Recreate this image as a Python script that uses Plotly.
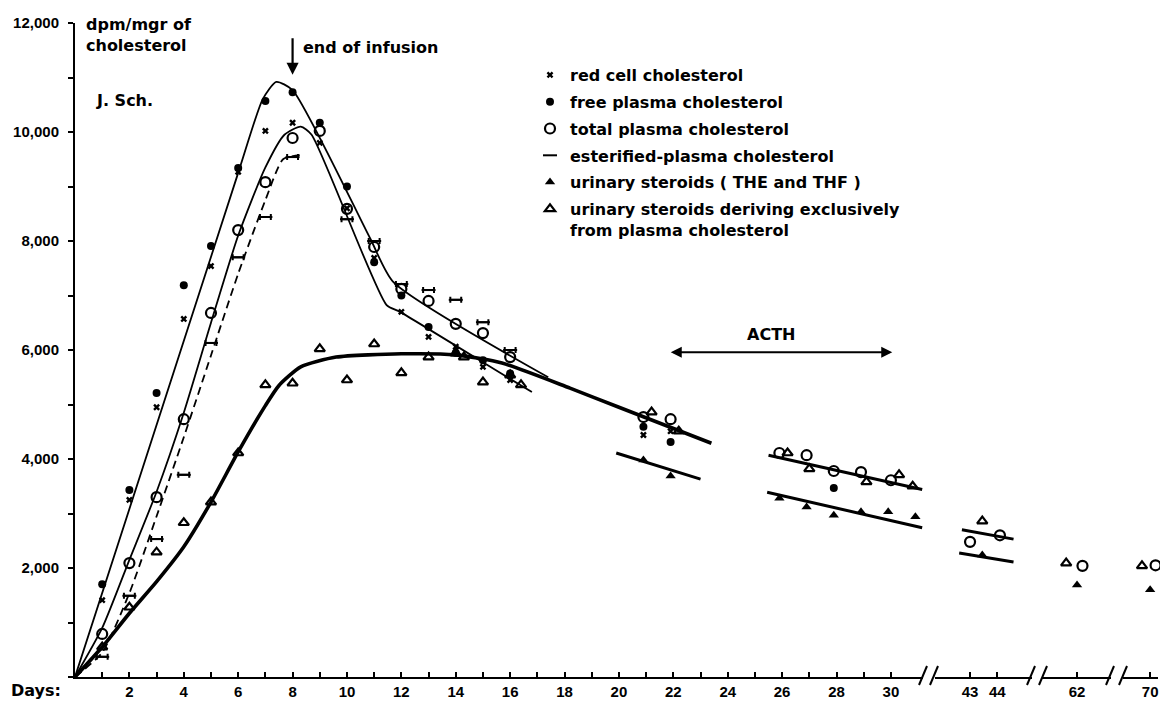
import plotly.graph_objects as go

# ---------------- data (days, dpm/mgr) ----------------
red_days = [1, 2, 3, 4, 5, 6, 7, 8, 9, 10, 11, 12, 13, 14, 15, 16, 20.9, 21.9]
red_vals = [1410, 3250, 4950, 6570, 7540, 9270, 10020, 10170, 9800, 8600, 7690, 6700, 6240, 6060, 5690, 5450, 4440, 4510]

free_days = [1, 2, 3, 4, 5, 6, 7, 8, 9, 10, 11, 12, 13, 14, 15, 16, 20.9, 21.9, 27.9]
free_vals = [1700, 3430, 5210, 7190, 7910, 9340, 10570, 10730, 10170, 9000, 7610, 7000, 6420, 5950, 5810, 5570, 4590, 4310, 3470]

total_days = [1, 2, 3, 4, 5, 6, 7, 8, 9, 10, 11, 12, 13, 14, 15, 16,
              20.9, 21.9, 25.9, 26.9, 27.9, 28.9, 30.0, 43.0, 44.1, 62.2, 70.2]
total_vals = [790, 2090, 3300, 4730, 6680, 8200, 9080, 9890, 10020, 8590, 7890, 7120, 6900, 6480, 6310, 5870,
              4770, 4730, 4110, 4070, 3780, 3760, 3610, 2480, 2600, 2040, 2050]

ester_days = [1, 2, 3, 4, 5, 6, 7, 8, 10, 11, 12, 13, 14, 15, 16]
ester_vals = [370, 1490, 2530, 3710, 6130, 7700, 8440, 9540, 8400, 8000, 7210, 7100, 6920, 6510, 6000]

uri_days = [20.9, 21.9, 25.9, 26.9, 27.9, 28.9, 29.9, 30.9, 43.45, 62.0, 70.0]
uri_vals = [3980, 3690, 3280, 3120, 2970, 3030, 3030, 2940, 2240, 1690, 1600]

uri_pl_days = [1, 2, 3, 4, 5, 6, 7, 8, 9, 10, 11, 12, 13, 14, 14.3, 15, 16, 16.4,
               21.2, 22.2, 26.2, 27.0, 29.1, 30.3, 30.8, 43.45, 61.6, 69.7]
uri_pl_vals = [550, 1280, 2290, 2830, 3210, 4110, 5360, 5390, 6020, 5450, 6110, 5580, 5870, 5940, 5870, 5410, 5540, 5360,
               4860, 4510, 4110, 3820, 3580, 3710, 3500, 2860, 2090, 2040]

# fitted curves drawn by the authors
curveA_days = [0, 6.0, 6.9, 7.4, 8.0, 10.85, 11.7, 17.4]
curveA_vals = [0, 9250, 10600, 10920, 10770, 8050, 7250, 5500]
curveB_days = [0, 1, 2, 3, 4, 5, 6, 7, 7.7, 8.3, 8.7, 11.45, 11.95, 15.9, 16.8]
curveB_vals = [0, 900, 2150, 3400, 4850, 6500, 8100, 9350, 9950, 10100, 9950, 6830, 6700, 5500, 5230]
curveC_days = [0, 1, 2, 3, 4, 5, 6, 7, 7.65, 8.3]
curveC_vals = [0, 450, 1540, 2950, 4400, 5900, 7400, 8750, 9500, 9580]
curveD_days = [0, 1, 2, 3, 4, 5, 6, 7, 7.5, 8.3, 9.6, 12, 14, 15.7, 18.2, 20, 23.4]
curveD_vals = [0, 550, 1170, 1750, 2390, 3210, 4130, 4980, 5350, 5690, 5870, 5930, 5910, 5760, 5300, 4950, 4290]
short_lines = [
    ([19.9, 23.0], [4110, 3630]),
    ([25.5, 31.15], [4070, 3440]),
    ([25.45, 31.15], [3390, 2740]),
    ([42.7, 44.6], [2700, 2530]),
    ([42.6, 44.6], [2275, 2110]),
]

y_ticks = list(range(0, 12001, 1000))
y_labels = ["" if (v == 0 or v % 2000) else f"{v:,}" for v in y_ticks]
x_ticks_main = list(range(1, 31))
x_labels_main = [str(d) if d % 2 == 0 else "" for d in x_ticks_main]

# ---------------- layout helpers ----------------
OFF = 8                      # page body margin of the html page
W, H = 1168 - OFF, 702 - OFF
ML, MR, MT, MB = 75 - OFF, 0, 23 - OFF, 25
PW, PH = W - ML - MR, H - MT - MB

def fx(px):                  # px given in screen (reference) pixels
    return (px - OFF - ML) / PW

def fy(py):
    return (H - MB - (py - OFF)) / PH

SEG_PX = [(75, 923), (935, 1032), (1042, 1111), (1123, 1158)]
SEG_RANGE = [(0, 31.18), (41.71, 45.28), (60.71, 63.25), (69.0, 70.29)]
AXN = ["x", "x2", "x3", "x4"]

def seg_index(d):
    if d < 36:
        return 0
    if d < 52:
        return 1
    if d < 66:
        return 2
    return 3

fig = go.Figure()
TICKFONT = "Liberation Sans"
TEXTFONT = "DejaVu Sans"

def add_line(days, vals, width, dash="solid", shape="spline"):
    s = seg_index(days[0])
    fig.add_trace(go.Scatter(x=days, y=vals, mode="lines", xaxis=AXN[s], yaxis="y",
                             line=dict(color="black", width=width, dash=dash, shape=shape, smoothing=0.6),
                             showlegend=False, hoverinfo="skip"))

add_line(curveA_days, curveA_vals, 1.8)
add_line(curveB_days, curveB_vals, 1.8)
add_line(curveC_days, curveC_vals, 1.8, dash="8px,5px")
add_line(curveD_days, curveD_vals, 3.6)
for d, v in short_lines:
    add_line(d, v, 3.0, shape="linear")

def add_markers(name, days, vals, marker, rank, error_x=None):
    groups = {}
    for d, v in zip(days, vals):
        groups.setdefault(seg_index(d), ([], []))
        groups[seg_index(d)][0].append(d)
        groups[seg_index(d)][1].append(v)
    first = True
    for s in sorted(groups):
        kw = {}
        if error_x is not None and s == 0:
            kw["error_x"] = error_x
        fig.add_trace(go.Scatter(x=groups[s][0], y=groups[s][1], mode="markers", name=name,
                                 xaxis=AXN[s], yaxis="y", marker=marker, legendgroup=name,
                                 legendrank=rank, showlegend=first, cliponaxis=False, **kw))
        first = False

add_markers("red cell cholesterol", red_days, red_vals,
            dict(symbol="x", size=6, color="black", line=dict(width=0)), 1)
add_markers("free plasma cholesterol", free_days, free_vals,
            dict(symbol="circle", size=8, color="black"), 2)
add_markers("total plasma cholesterol", total_days, total_vals,
            dict(symbol="circle-open", size=10, color="black", line=dict(width=2.2, color="black")), 3)
add_markers("esterified-plasma cholesterol", ester_days, ester_vals,
            dict(symbol="line-ew", size=10, color="black", line=dict(width=2, color="black")), 4,
            error_x=dict(type="constant", value=0.2, width=3, thickness=2, color="black"))
add_markers("urinary steroids ( THE and THF )", uri_days, uri_vals,
            dict(symbol="triangle-up", size=9, color="black"), 5)
add_markers("urinary steroids deriving exclusively<br>from plasma cholesterol", uri_pl_days, uri_pl_vals,
            dict(symbol="triangle-up-open", size=9, color="black", line=dict(width=2.2, color="black")), 6)

tickf = dict(family=TICKFONT, size=15, color="black", weight="bold")
axis_common = dict(showgrid=False, zeroline=False, showline=True, linecolor="black", linewidth=2,
                   ticks="inside", ticklen=5, tickwidth=2, tickcolor="black", automargin=False,
                   tickfont=tickf, anchor="y")
layout_axes = {}
tickcfg = [(x_ticks_main, x_labels_main), ([43, 44], ["43", "44"]), ([62], ["62"]), ([70], ["70"])]
for i, name in enumerate(["xaxis", "xaxis2", "xaxis3", "xaxis4"]):
    a, b = SEG_PX[i]
    layout_axes[name] = dict(axis_common, domain=[fx(a), fx(b)], range=list(SEG_RANGE[i]),
                             tickmode="array", tickvals=tickcfg[i][0], ticktext=tickcfg[i][1])

breaks = [((919, 685), (927, 666)), ((930, 685), (938, 666)),
          ((1027, 685), (1035, 666)), ((1039, 685), (1047, 666)),
          ((1106, 685), (1114, 666)), ((1119, 685), (1127, 666))]
shapes = [dict(type="line", xref="paper", yref="paper", x0=fx(p0[0]), y0=fy(p0[1]), x1=fx(p1[0]), y1=fy(p1[1]),
               line=dict(color="black", width=2)) for p0, p1 in breaks]

tf = dict(family=TEXTFONT, size=16, color="black", weight="bold")
annotations = [
    dict(xref="paper", yref="paper", x=fx(84), y=fy(13), xanchor="left", yanchor="top", align="left",
         text="dpm/mgr of<br>cholesterol", showarrow=False, font=tf),
    dict(xref="paper", yref="paper", x=fx(94), y=fy(101), xanchor="left", yanchor="middle",
         text="J. Sch.", showarrow=False, font=tf),
    dict(xref="paper", yref="paper", x=fx(301), y=fy(48), xanchor="left", yanchor="middle",
         text="end of infusion", showarrow=False, font=tf),
    dict(xref="x", yref="y", x=8, y=11050, ax=0, ay=-38, text="", showarrow=True,
         arrowhead=2, arrowsize=1.1, arrowwidth=2.2, arrowcolor="black"),
    dict(xref="x", yref="y", x=30.05, y=5960, axref="x", ayref="y", ax=21.85, ay=5960, text="",
         showarrow=True, arrowside="end+start", arrowhead=2, arrowsize=1.1, arrowwidth=2, arrowcolor="black"),
    dict(xref="x", yref="y", x=25.6, y=6280, text="ACTH", showarrow=False, font=tf),
    dict(xref="paper", yref="paper", x=fx(9), y=fy(690), xanchor="left", yanchor="middle",
         text="Days:", showarrow=False, font=tf),
]

fig.update_layout(
    width=W, height=H,
    margin=dict(l=ML, r=MR, t=MT, b=MB),
    paper_bgcolor="white", plot_bgcolor="white",
    font=dict(family=TEXTFONT, size=16, color="black", weight="bold"),
    yaxis=dict(range=[0, 12000], domain=[0, 1], anchor="x", showgrid=False, zeroline=False,
               showline=True, linecolor="black", linewidth=2, ticks="outside", ticklen=5, tickwidth=2,
               tickcolor="black", tickmode="array", tickvals=y_ticks, ticktext=y_labels,
               ticklabelstandoff=6, tickfont=tickf, automargin=False),
    legend=dict(x=fx(530), y=fy(58), xanchor="left", yanchor="top", bgcolor="rgba(0,0,0,0)",
                font=dict(family=TEXTFONT, size=16, color="black", weight="bold"),
                itemwidth=30, tracegroupgap=3, valign="top"),
    shapes=shapes, annotations=annotations,
    **layout_axes,
)

fig.write_html("out.html")
